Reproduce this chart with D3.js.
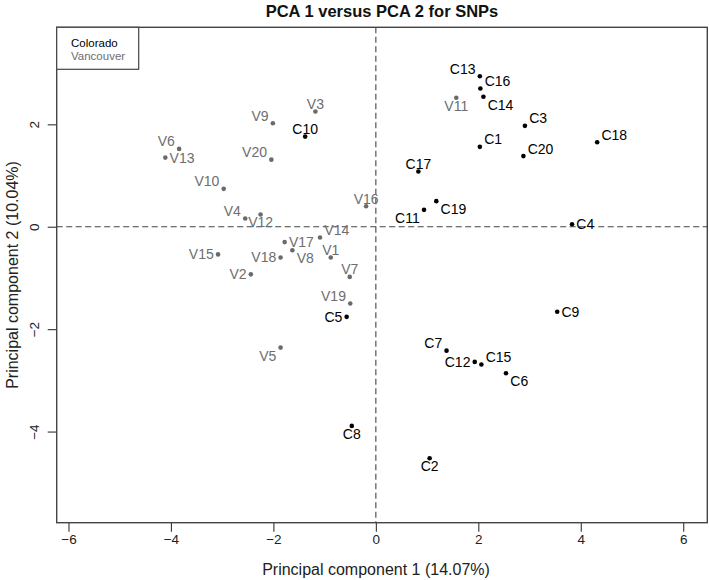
<!DOCTYPE html>
<html>
<head>
<meta charset="utf-8">
<script src="https://cdn.jsdelivr.net/npm/d3@7"></script>
<style>
  html, body { margin: 0; padding: 0; background: #fff; }
  svg { display: block; font-family: "Liberation Sans", Arial, Helvetica, sans-serif; }
</style>
</head>
<body>
<svg id="chart" width="709" height="580"></svg>
<script>
// ---------------- data ----------------
const sampleNames = [
  "C1","C2","C3","C4","C5","C6","C7","C8","C9","C10",
  "C11","C12","C13","C14","C15","C16","C17","C18","C19","C20",
  "V1","V2","V3","V4","V5","V6","V7","V8","V9","V10",
  "V11","V12","V13","V14","V15","V16","V17","V18","V19","V20"
];
const population = [
  "Colorado","Colorado","Colorado","Colorado","Colorado","Colorado","Colorado","Colorado","Colorado","Colorado",
  "Colorado","Colorado","Colorado","Colorado","Colorado","Colorado","Colorado","Colorado","Colorado","Colorado",
  "Vancouver","Vancouver","Vancouver","Vancouver","Vancouver","Vancouver","Vancouver","Vancouver","Vancouver","Vancouver",
  "Vancouver","Vancouver","Vancouver","Vancouver","Vancouver","Vancouver","Vancouver","Vancouver","Vancouver","Vancouver"
];
const pc1 = [
  2.03, 1.05, 2.91, 3.83, -0.57, 2.54, 1.38, -0.47, 3.54, -1.38,
  0.94, 1.93, 2.03, 2.10, 2.06, 2.04, 0.83, 4.32, 1.18, 2.88,
  -0.88, -2.44, -1.18, -2.55, -1.86, -3.84, -0.51, -1.63, -2.01, -2.97,
  1.57, -2.25, -4.11, -1.09, -3.08, -0.19, -1.78, -1.86, -0.50, -2.04
];
const pc2 = [
  1.56, -4.52, 1.97, 0.05, -1.76, -2.86, -2.42, -3.89, -1.66, 1.76,
  0.33, -2.64, 2.94, 2.54, -2.69, 2.70, 1.08, 1.65, 0.50, 1.38,
  -0.60, -0.93, 2.25, 0.16, -2.36, 1.52, -0.98, -0.46, 2.02, 0.74,
  2.52, 0.24, 1.35, -0.21, -0.54, 0.40, -0.30, -0.60, -1.50, 1.31
];
const xTicks = [-6, -4, -2, 0, 2, 4, 6];
const yTicks = [-4, -2, 0, 2];
const legendLabels = ["Colorado", "Vancouver"];
const titleText = "PCA 1 versus PCA 2 for SNPs";
const xTitle = "Principal component 1 (14.07%)";
const yTitle = "Principal component 2 (10.04%)";

// label placement (layout only), keyed by sample name
const labelPlacement = {
  C1:"tr", C2:"b", C3:"tr", C4:"r", C5:"l", C6:"br", C7:"tl", C8:"b", C9:"r", C10:"t",
  C11:"bl", C12:"l", C13:"tl", C14:"br", C15:"tr", C16:"tr", C17:"t", C18:"tr", C19:"br", C20:"tr",
  V1:"t", V2:"l", V3:"t", V4:"tl", V5:"bl", V6:"tl", V7:"t", V8:"br", V9:"tl", V10:"tl",
  V11:"b", V12:"b", V13:"r", V14:"tr", V15:"l", V16:"t", V17:"r", V18:"l", V19:"tl", V20:"tl"
};

// ---------------- layout ----------------
const box = { left: 56.7, right: 707.3, top: 27.3, bottom: 522.7 };
const colors = { Colorado: "#000000", Vancouver: "#6a6a6a" };
const labelColors = { Colorado: "#000000", Vancouver: "#6e6e6e" };
const minus = s => String(s).replace("-", "\u2212");

const x = d3.scaleLinear().domain([-6.23, 6.47]).range([box.left, box.right]);
const y = d3.scaleLinear().domain([-5.78, 3.895]).range([box.bottom, box.top]);

const svg = d3.select("#chart");

// title
svg.append("text")
  .attr("x", (box.left + box.right) / 2)
  .attr("y", 17)
  .attr("text-anchor", "middle")
  .attr("font-weight", "bold")
  .attr("font-size", 16.5)
  .attr("fill", "#111")
  .text(titleText);

// zero reference lines
svg.append("line")
  .attr("x1", x(0)).attr("x2", x(0))
  .attr("y1", box.top).attr("y2", box.bottom)
  .attr("stroke", "#444").attr("stroke-width", 1.1)
  .attr("stroke-dasharray", "6,3.5");
svg.append("line")
  .attr("x1", box.left).attr("x2", box.right)
  .attr("y1", y(0)).attr("y2", y(0))
  .attr("stroke", "#444").attr("stroke-width", 1.1)
  .attr("stroke-dasharray", "6,3.5");

// axes
const xAxis = d3.axisBottom(x).tickValues(xTicks).tickSize(9).tickPadding(3).tickFormat(minus);
const gx = svg.append("g").attr("transform", `translate(0,${box.bottom})`).call(xAxis);
gx.select(".domain").remove();
gx.selectAll(".tick line").attr("stroke", "#333").attr("stroke-width", 1.1);
gx.selectAll(".tick text").attr("font-size", 13.5).attr("fill", "#222")
  .attr("font-family", "Liberation Sans, Arial, sans-serif");

const yAxis = d3.axisLeft(y).tickValues(yTicks).tickSize(9).tickFormat(minus);
const gy = svg.append("g").attr("transform", `translate(${box.left},0)`).call(yAxis);
gy.select(".domain").remove();
gy.selectAll(".tick line").attr("stroke", "#333").attr("stroke-width", 1.1);
gy.selectAll(".tick text")
  .attr("font-size", 13.5).attr("fill", "#222")
  .attr("font-family", "Liberation Sans, Arial, sans-serif")
  .attr("x", null).attr("dy", null)
  .attr("text-anchor", "middle")
  .attr("transform", "translate(-22,0) rotate(-90)")
  .attr("y", 0)
  .attr("dominant-baseline", "central");

// plot frame
svg.append("rect")
  .attr("x", box.left).attr("y", box.top)
  .attr("width", box.right - box.left).attr("height", box.bottom - box.top)
  .attr("fill", "none").attr("stroke", "#444").attr("stroke-width", 1.4);

// axis titles
svg.append("text")
  .attr("x", (box.left + box.right) / 2 - 6)
  .attr("y", 575)
  .attr("text-anchor", "middle")
  .attr("font-size", 16)
  .attr("fill", "#222")
  .text(xTitle);
svg.append("text")
  .attr("transform", `translate(18,${(box.top + box.bottom) / 2}) rotate(-90)`)
  .attr("text-anchor", "middle")
  .attr("font-size", 16)
  .attr("fill", "#222")
  .text(yTitle);

// points
const pts = sampleNames.map((n, i) => ({ name: n, pop: population[i], x: pc1[i], y: pc2[i] }));

svg.append("g").selectAll("circle").data(pts).join("circle")
  .attr("cx", d => x(d.x)).attr("cy", d => y(d.y))
  .attr("r", 2.3)
  .attr("fill", d => colors[d.pop]);

// labels
const hGap = 4.3, vUp = -7.5, vDown = 8;
function placement(d) {
  const p = labelPlacement[d.name] || "r";
  let dx = 0, dy = 0, anchor = "middle";
  if (p.includes("t")) dy = vUp;
  if (p.includes("b")) dy = vDown;
  if (p === "l" || p === "tl" || p === "bl") { anchor = "end"; dx = -hGap; }
  if (p === "r" || p === "tr" || p === "br") { anchor = "start"; dx = hGap; }
  if (p === "t" || p === "b") { anchor = "middle"; dx = 0; }
  return { dx, dy, anchor };
}
svg.append("g").selectAll("text").data(pts).join("text")
  .each(function (d) {
    const p = placement(d);
    d3.select(this)
      .attr("x", x(d.x) + p.dx)
      .attr("y", y(d.y) + p.dy)
      .attr("text-anchor", p.anchor)
      .attr("dominant-baseline", "central");
  })
  .attr("font-size", 14)
  .attr("fill", d => labelColors[d.pop])
  .text(d => d.name);

// legend
const lg = svg.append("g");
lg.append("rect")
  .attr("x", box.left).attr("y", box.top)
  .attr("width", 82).attr("height", 42)
  .attr("fill", "#fff").attr("stroke", "#444").attr("stroke-width", 1.2);
lg.selectAll("text").data(legendLabels).join("text")
  .attr("x", box.left + 14.3)
  .attr("y", (d, i) => box.top + 20 + i * 12.4)
  .attr("font-size", 11.5)
  .attr("fill", d => labelColors[d])
  .text(d => d);
</script>
</body>
</html>
